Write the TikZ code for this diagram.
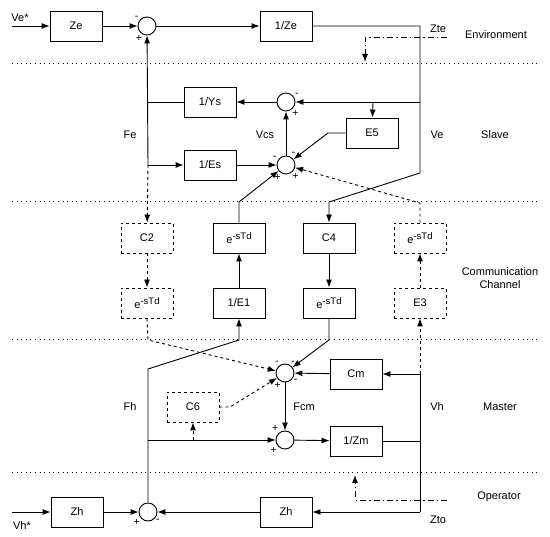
\documentclass[tikz,border=0pt]{standalone}
\usepackage{fontspec}
\setmainfont{Liberation Sans}
\usetikzlibrary{arrows.meta, positioning}

\newcommand{\edelay}{e\raisebox{4.5pt}{\fontsize{9.5}{10}\selectfont -sTd}}

\begin{document}
\begin{tikzpicture}[x=1pt, y=-1pt, line width=0.9pt,
    font=\fontsize{11}{13}\selectfont,
    block/.style={rectangle, draw, minimum width=52pt, minimum height=30pt, inner sep=1pt},
    dblock/.style={block, dashed},
    sumnode/.style={circle, draw, minimum size=18pt, inner sep=0pt},
    sign/.style={inner sep=0.5pt, font=\fontsize{10.5}{10}\selectfont},
    arrow/.style={-{Latex[length=8pt,width=6pt]}},
    dashdot/.style={dash pattern=on 6pt off 3pt on 1.5pt off 3pt},
    layer/.style={line width=1pt, dash pattern=on 1pt off 3.6pt}]
\useasboundingbox (0,0) rectangle (550,537);

% layer borders
\foreach \y in {64,202,340,473}
  \draw[layer] (12,\y) -- (540,\y);

% environment
\node (ze) [block] at (76,26) {Ze};
\node (sume) [sumnode, label={[sign]145:-}, label={[sign]245:+}] at (147,26) {};
\node (invze) [block] at (286,26) {1/Ze};

% slave
\node (invys) [block] at (210,102) {1/Ys};
\node (inves) [block] at (210,165) {1/Es};
\node (sumsu) [sumnode, label={[sign]30:-}, label={[sign]-55:+}] at (286,102) {};
\node (sumsl) [sumnode, label={[sign]152:-}, label={[sign]60:-},
  label={[sign]243:+}, label={[sign]-55:+}] at (286,165) {};
\node (efive) [block] at (372,133) {E5};

% communication channel
\node (ctwo) [dblock] at (147,238) {C2};
\node (dtwo) [dblock] at (147,303) {\edelay};
\node (done) [block] at (239,238) {\edelay};
\node (eone) [block] at (239,303) {1/E1};
\node (cfour) [block] at (329,238) {C4};
\node (dfour) [block] at (329,303) {\edelay};
\node (dthree) [dblock] at (420,238) {\edelay};
\node (ethree) [dblock] at (420,303) {E3};

% master
\node (msuma) [sumnode, label={[sign]125:-}, label={[sign]55:-},
  label={[sign]-32:-}, label={[sign]250:+}] at (285,373) {};
\node (msumb) [sumnode, label={[sign]128:+}, label={[sign]220:+}] at (285,440) {};
\node (cm) [block] at (356,374) {Cm};
\node (invzm) [block] at (356,441) {1/Zm};
\node (csix) [dblock] at (193,407) {C6};

% operator
\node (zhl) [block] at (77,512) {Zh};
\node (hsum) [sumnode, label={[sign]220:+}, label={[sign]-40:-}] at (148,512) {};
\node (zhr) [block] at (286,512) {Zh};

\coordinate (feJ) at (148,165);
\coordinate (vhtop) at (420,374);
\coordinate (vhbot) at (420,512);

% environment loop
\draw [arrow] (12,26) -- (ze);
\draw [arrow] (ze) -- (sume);
\draw [arrow] (sume) -- (invze);
\draw [arrow] (invze.east) -- (420,26) -- (420,173) -- (329,202) -- (cfour);
\draw [arrow, dashdot] (447,37) -- (365,37) -- (365,62);

% slave loop
\draw [arrow] (feJ) -- (sume);
\draw (invys) -- (invys -| feJ);
\draw [arrow] (feJ) -- (inves);
\draw [arrow] (inves) -- (sumsl);
\draw [arrow] (sumsl) -- (sumsu);
\draw [arrow] (sumsu) -- (invys);
\draw [arrow] (420,102) -- (sumsu);
\draw [arrow] (373,102) -- (efive);
\draw [arrow] (efive.west) -- (328,133) -- (sumsl);

% channel
\draw [arrow, dashed] (feJ) -- (ctwo);
\draw [arrow, dashed] (ctwo) -- (dtwo);
\draw [arrow, dashed] (dtwo.south) -- (148,340) -- (msuma);
\draw [arrow] (eone) -- (done);
\draw [arrow] (done.north) -- (239,202) -- (sumsl);
\draw [arrow] (cfour) -- (dfour);
\draw [arrow] (dfour.south) -- (329,340) -- (msuma);
\draw [arrow, dashed] (ethree) -- (dthree);
\draw [arrow, dashed] (dthree.north) -- (420,203) -- (sumsl);

% master loop
\draw [arrow, dashed] (vhtop) -- (ethree);
\draw [arrow] (vhtop) -- (cm);
\draw (vhtop) -- (vhbot);
\draw (invzm.east) -- (invzm.east -| vhtop);
\draw [arrow] (cm) -- (msuma);
\draw [arrow] (msuma) -- (msumb);
\draw [arrow] (msumb) -- (invzm);
\draw [arrow] (148,440) -- (msumb);
\draw [arrow, dashed] (193,440) -- (csix);
\draw [arrow, dashed] (csix.east) -- (230,407) -- (msuma);

% operator loop
\draw [arrow] (12,512) -- (zhl);
\draw [arrow] (zhl) -- (hsum);
\draw [arrow] (vhbot) -- (zhr);
\draw [arrow] (zhr) -- (hsum);
\draw [arrow] (hsum.north) -- (148,369) -- (239,340) -- (eone);
\draw [arrow, dashdot] (447,500) -- (355,500) -- (355,475);

% signal labels
\node (lvestar) at (20,18) {Ve*};
\node (lvhstar) at (22,526) {Vh*};
\node (lzte) at (438,29) {Zte};
\node (lzto) at (438,520) {Zto};
\node (lfe) at (130,135) {Fe};
\node (lvcs) at (265,135) {Vcs};
\node (lve) at (437,135) {Ve};
\node (lfh) at (130,407) {Fh};
\node (lfcm) at (304,407) {Fcm};
\node (lvh) at (437,407) {Vh};

% layer labels
\node (lenv) at (496,35) {Environment};
\node (lslave) at (495,135) {Slave};
\node (lcomm) [align=center] at (500,278) {Communication\\Channel};
\node (lmaster) at (500,407) {Master};
\node (loper) at (499,497) {Operator};
\end{tikzpicture}
\end{document}
